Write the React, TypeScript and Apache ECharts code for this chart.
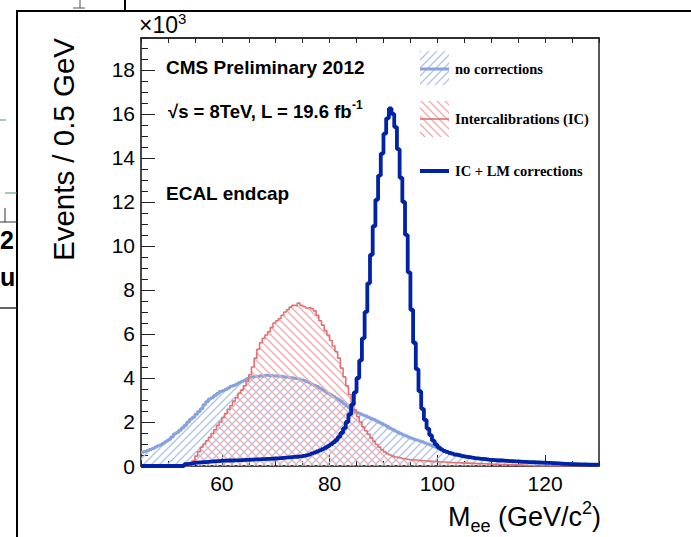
import React, { useEffect, useRef } from "react";
import * as echarts from "echarts";

// Histogram binning (GeV)
const X_MIN = 45;
const X_MAX = 130;
const BIN = 0.5;
const Y_MAX = 19.45; // in units of 10^3 events

const X_LABELS = [60, 80, 100, 120];
const Y_LABELS = [0, 2, 4, 6, 8, 10, 12, 14, 16, 18];

// Events / 0.5 GeV (x10^3), one value per bin starting at 45 GeV
const noCorrections = [
  0.62, 0.66, 0.70, 0.75, 0.80, 0.86, 0.92, 0.97, 1.05, 1.12,
  1.20, 1.32, 1.45, 1.52, 1.62, 1.74, 1.85, 2.00, 2.12, 2.22,
  2.35, 2.48, 2.60, 2.78, 2.92, 3.05, 3.10, 3.20, 3.30, 3.38,
  3.42, 3.48, 3.55, 3.62, 3.66, 3.72, 3.78, 3.84, 3.90, 3.96,
  4.02, 4.06, 4.08, 4.05, 4.10, 4.07, 4.12, 4.10, 4.13, 4.09,
  4.10, 4.07, 4.08, 4.04, 4.05, 4.01, 3.99, 3.97, 3.95, 3.91,
  3.88, 3.84, 3.79, 3.72, 3.66, 3.61, 3.53, 3.46, 3.39, 3.31,
  3.24, 3.16, 3.08, 3.01, 2.93, 2.83, 2.73, 2.64, 2.55, 2.48,
  2.42, 2.37, 2.32, 2.27, 2.22, 2.16, 2.11, 2.05, 1.99, 1.92,
  1.86, 1.79, 1.72, 1.66, 1.59, 1.53, 1.47, 1.41, 1.36, 1.31,
  1.26, 1.22, 1.18, 1.14, 1.10, 1.05, 1.00, 0.95, 0.90, 0.85,
  0.80, 0.75, 0.71, 0.67, 0.63, 0.59, 0.55, 0.52, 0.49, 0.46,
  0.43, 0.41, 0.39, 0.37, 0.35, 0.34, 0.33, 0.32, 0.31, 0.30,
  0.29, 0.28, 0.27, 0.26, 0.25, 0.24, 0.23, 0.22, 0.21, 0.20,
  0.19, 0.19, 0.18, 0.17, 0.17, 0.16, 0.16, 0.15, 0.15, 0.14,
  0.14, 0.13, 0.13, 0.13, 0.12, 0.12, 0.12, 0.11, 0.11, 0.11,
  0.11, 0.10, 0.10, 0.10, 0.10, 0.10, 0.09, 0.09, 0.09, 0.09,
];

const intercalibrations = [
  0, 0, 0, 0, 0, 0, 0, 0, 0, 0,
  0, 0, 0, 0, 0, 0, 0, 0, 0.08, 0.25,
  0.45, 0.65, 0.85, 1.0, 1.15, 1.3, 1.48, 1.65, 1.85, 2.0,
  2.2, 2.38, 2.58, 2.75, 2.95, 3.1, 3.3, 3.45, 3.65, 3.85,
  4.15, 4.5, 4.9, 5.3, 5.6, 5.8, 5.95, 6.1, 6.3, 6.5,
  6.6, 6.7, 6.85, 7.0, 7.1, 7.22, 7.3, 7.28, 7.4, 7.3,
  7.25, 7.18, 7.2, 7.15, 7.05, 6.85, 6.6, 6.4, 6.15, 5.95,
  5.7, 5.45, 5.2, 4.9, 4.45, 4.05, 3.65, 3.25, 2.9, 2.55,
  2.25, 2.0, 1.78, 1.6, 1.45, 1.28, 1.12, 0.98, 0.86, 0.74,
  0.64, 0.56, 0.5, 0.45, 0.41, 0.38, 0.35, 0.33, 0.31, 0.29,
  0.28, 0.27, 0.26, 0.25, 0.24, 0.23, 0.22, 0.21, 0.2, 0.2,
  0.19, 0.18, 0.18, 0.17, 0.16, 0.16, 0.15, 0.15, 0.14, 0.14,
  0.13, 0.13, 0.12, 0.12, 0.11, 0.11, 0.1, 0.1, 0.09, 0.09,
  0.08, 0.08, 0.08, 0.07, 0.07, 0.07, 0.06, 0.06, 0.06, 0.05,
  0.05, 0.04, 0.03, 0.02, 0.01, 0, 0, 0, 0, 0,
  0, 0, 0, 0, 0, 0, 0, 0, 0, 0,
  0, 0, 0, 0, 0, 0, 0, 0, 0, 0,
];

const icLmCorrections = [
  0, 0, 0, 0, 0, 0, 0, 0, 0, 0,
  0, 0, 0, 0, 0, 0, 0.08, 0.10, 0.12, 0.14,
  0.15, 0.16, 0.17, 0.18, 0.19, 0.2, 0.21, 0.22, 0.22, 0.23,
  0.24, 0.24, 0.25, 0.25, 0.26, 0.26, 0.27, 0.27, 0.28, 0.28,
  0.29, 0.29, 0.3, 0.3, 0.31, 0.31, 0.32, 0.32, 0.33, 0.34,
  0.35, 0.36, 0.37, 0.38, 0.39, 0.4, 0.41, 0.42, 0.44, 0.45,
  0.47, 0.5, 0.53, 0.57, 0.61, 0.66, 0.71, 0.77, 0.83, 0.9,
  0.98, 1.07, 1.18, 1.32, 1.5, 1.72, 2.0, 2.35, 2.8, 3.35,
  4.0, 4.8, 5.8, 7.0, 8.3, 9.6, 10.9, 12.1, 13.2, 14.2,
  15.1, 15.8, 16.25, 16.0, 15.4, 14.4, 13.1, 12.0, 10.5, 8.8,
  7.1, 5.6, 4.4, 3.4, 2.6, 2.1, 1.7, 1.4, 1.15, 0.98,
  0.85, 0.76, 0.69, 0.64, 0.6, 0.56, 0.52, 0.49, 0.46, 0.44,
  0.42, 0.4, 0.38, 0.36, 0.35, 0.33, 0.32, 0.31, 0.29, 0.28,
  0.27, 0.26, 0.25, 0.25, 0.24, 0.23, 0.22, 0.22, 0.21, 0.21,
  0.2, 0.19, 0.19, 0.18, 0.17, 0.17, 0.16, 0.16, 0.15, 0.15,
  0.14, 0.14, 0.13, 0.13, 0.12, 0.11, 0.1, 0.1, 0.09, 0.08,
  0.07, 0.07, 0.06, 0.06, 0.06, 0.05, 0.05, 0.05, 0.05, 0.05,
];

const SERIES_NAMES = ["no corrections", "Intercalibrations (IC)", "IC + LM corrections"];

const C_LIGHT = "#86a3dc";
const C_LIGHT_HATCH = "#adc2ed";
const C_RED = "#e07272";
const C_RED_HATCH = "#efacac";
const C_DARK = "#0022a6";

const SANS = "'Liberation Sans', Arial, Helvetica, sans-serif";
const SERIF = "'Liberation Serif', 'Times New Roman', serif";

function toSteps(vals: number[]): number[][] {
  const pts = vals.map((v, i) => [X_MIN + i * BIN, v]);
  pts.push([X_MIN + vals.length * BIN, vals[vals.length - 1]]);
  return pts;
}

function hatchPattern(color: string, dir: "/" | "\\", size = 8, lw = 1.25) {
  const s = size;
  const seg = (x1: number, y1: number, x2: number, y2: number) =>
    `<line x1="${x1}" y1="${y1}" x2="${x2}" y2="${y2}" stroke="${color}" stroke-width="${lw}"/>`;
  const body =
    dir === "/"
      ? seg(-2, s + 2, s + 2, -2) + seg(-2, 2, 2, -2) + seg(s - 2, s + 2, s + 2, s - 2)
      : seg(-2, -2, s + 2, s + 2) + seg(s - 2, -2, s + 2, 2) + seg(-2, s - 2, 2, s + 2);
  const svg = `<svg xmlns="http://www.w3.org/2000/svg" width="${s}" height="${s}" viewBox="0 0 ${s} ${s}">${body}</svg>`;
  return {
    image: "data:image/svg+xml;base64," + btoa(svg),
    imageWidth: s,
    imageHeight: s,
    repeat: "repeat",
  };
}

export default function App() {
  const ref = useRef<HTMLDivElement>(null);

  useEffect(() => {
    if (!ref.current) return;
    const chart = echarts.init(ref.current, undefined, { renderer: "svg" });
    const bluePattern = hatchPattern(C_LIGHT_HATCH, "/");
    const redPattern = hatchPattern(C_RED_HATCH, "\\");
    const bluePatternLegend = hatchPattern(C_LIGHT_HATCH, "/");
    const redPatternLegend = hatchPattern(C_RED_HATCH, "\\");

    const axisCommon = { type: "value", min: X_MIN, max: X_MAX, interval: 5, splitLine: { show: false } };
    const yCommon = { type: "value", min: 0, max: Y_MAX, splitLine: { show: false } };

    const option: any = {
      animation: false,
      backgroundColor: "#ffffff",
      grid: {
        left: 141,
        top: 38,
        width: 458,
        height: 428,
        show: true,
        borderColor: "#222",
        borderWidth: 1.5,
        backgroundColor: "transparent",
      },
      xAxis: [
        {
          ...axisCommon,
          position: "bottom",
          axisLine: { show: true, lineStyle: { color: "#444", width: 1.5 } },
          axisTick: { show: true, inside: true, length: 5, lineStyle: { color: "#222", width: 1 } },
          axisLabel: { show: false },
        },
        {
          ...axisCommon,
          position: "bottom",
          axisLine: { show: false },
          axisTick: { show: true, inside: true, length: 11, customValues: X_LABELS, lineStyle: { color: "#222", width: 1 } },
          axisLabel: {
            show: true,
            customValues: X_LABELS,
            fontSize: 21,
            fontFamily: SANS,
            color: "#000",
            margin: 7,
            formatter: (v: number) => (X_LABELS.indexOf(v) >= 0 ? String(v) : ""),
          },
        },
        {
          ...axisCommon,
          position: "top",
          axisLine: { show: true, lineStyle: { color: "#222", width: 1.5 } },
          axisTick: { show: true, inside: true, length: 5, lineStyle: { color: "#222", width: 1 } },
          axisLabel: { show: false },
        },
      ],
      yAxis: [
        {
          ...yCommon,
          interval: 0.5,
          position: "left",
          axisLine: { show: true, lineStyle: { color: "#444", width: 1.5 } },
          axisTick: { show: true, inside: true, length: 7, lineStyle: { color: "#222", width: 1 } },
          axisLabel: { show: false },
        },
        {
          ...yCommon,
          interval: 2,
          position: "left",
          axisLine: { show: false },
          axisTick: { show: true, inside: true, length: 14, customValues: Y_LABELS, lineStyle: { color: "#222", width: 1 } },
          axisLabel: {
            show: true,
            customValues: Y_LABELS,
            fontSize: 21,
            fontFamily: SANS,
            color: "#000",
            margin: 6,
            formatter: (v: number) => (Y_LABELS.indexOf(v) >= 0 ? String(v) : ""),
          },
        },
      ],
      series: [
        {
          name: SERIES_NAMES[0],
          type: "line",
          step: "end",
          symbol: "none",
          xAxisIndex: 0,
          yAxisIndex: 0,
          data: toSteps(noCorrections),
          lineStyle: { color: C_LIGHT, width: 3 },
          itemStyle: { color: C_LIGHT },
          areaStyle: { color: bluePattern, opacity: 1 },
          z: 2,
        },
        {
          name: SERIES_NAMES[1],
          type: "line",
          step: "end",
          symbol: "none",
          xAxisIndex: 0,
          yAxisIndex: 0,
          data: toSteps(intercalibrations),
          lineStyle: { color: C_RED, width: 1.6 },
          itemStyle: { color: C_RED },
          areaStyle: { color: redPattern, opacity: 1 },
          z: 3,
        },
        {
          name: SERIES_NAMES[2],
          type: "line",
          step: "end",
          symbol: "none",
          xAxisIndex: 0,
          yAxisIndex: 0,
          data: toSteps(icLmCorrections),
          lineStyle: { color: C_DARK, width: 3.8 },
          itemStyle: { color: C_DARK },
          z: 4,
        },
      ],
      graphic: [
        // outer canvas frame fragments
        { type: "polyline", shape: { points: [[17, 537], [17, 11], [691, 11]] }, style: { stroke: "#000", lineWidth: 2, fill: "none" } },
        { type: "line", shape: { x1: 125, y1: 0, x2: 125, y2: 11 }, style: { stroke: "#000", lineWidth: 2 } },
        { type: "line", shape: { x1: 80, y1: 0, x2: 80, y2: 8 }, style: { stroke: "#555", lineWidth: 1 } },
        { type: "line", shape: { x1: 73, y1: 8, x2: 85, y2: 8 }, style: { stroke: "#555", lineWidth: 1 } },
        { type: "line", shape: { x1: 0, y1: 120, x2: 6, y2: 120 }, style: { stroke: "#4a9a6a", lineWidth: 1 } },
        { type: "line", shape: { x1: 5, y1: 193, x2: 17, y2: 193 }, style: { stroke: "#4a9a6a", lineWidth: 1 } },
        { type: "line", shape: { x1: 5, y1: 208, x2: 5, y2: 222 }, style: { stroke: "#333", lineWidth: 1 } },
        { type: "line", shape: { x1: 0, y1: 222, x2: 17, y2: 222 }, style: { stroke: "#333", lineWidth: 1 } },
        { type: "line", shape: { x1: 0, y1: 308, x2: 17, y2: 308 }, style: { stroke: "#333", lineWidth: 1.5 } },
        { type: "text", x: 0, y: 240, style: { text: "2", font: `bold 25px ${SANS}`, fill: "#000", verticalAlign: "middle" } },
        { type: "text", x: 0, y: 277, style: { text: "u", font: `bold 25px ${SANS}`, fill: "#000", verticalAlign: "middle" } },

        // axis titles
        {
          type: "text",
          x: 63,
          y: 38,
          rotation: Math.PI / 2,
          style: { text: "Events / 0.5 GeV", font: `29.5px ${SANS}`, fill: "#000", align: "right", verticalAlign: "middle" },
        },
        {
          type: "text",
          x: 601,
          y: 517,
          style: {
            text: "{m|M}{sub|ee}{m| (GeV/c}{sup|2}{m|)}",
            align: "right",
            verticalAlign: "middle",
            fill: "#000",
            rich: {
              m: { fontSize: 27, fontFamily: SANS, lineHeight: 36, verticalAlign: "middle", fill: "#000" },
              sub: { fontSize: 18, fontFamily: SANS, lineHeight: 17, verticalAlign: "bottom", fill: "#000" },
              sup: { fontSize: 18, fontFamily: SANS, lineHeight: 17, verticalAlign: "top", fill: "#000" },
            },
          },
        },
        {
          type: "text",
          x: 139,
          y: 25,
          style: {
            text: "{m|\u00d710}{sup|3}",
            align: "left",
            verticalAlign: "middle",
            fill: "#000",
            rich: {
              m: { fontSize: 23, fontFamily: SANS, lineHeight: 28, verticalAlign: "middle", fill: "#000" },
              sup: { fontSize: 15, fontFamily: SANS, lineHeight: 15, verticalAlign: "top", fill: "#000" },
            },
          },
        },

        // annotations
        { type: "text", x: 166, y: 67, style: { text: "CMS Preliminary 2012", font: `bold 19px ${SANS}`, fill: "#000", verticalAlign: "middle" } },
        {
          type: "text",
          x: 168,
          y: 111,
          style: {
            text: "{m|\u221As = 8TeV, L = 19.6 fb}{sup|-1}",
            verticalAlign: "middle",
            fill: "#000",
            rich: {
              m: { fontSize: 18.5, fontWeight: "bold", fontFamily: SANS, lineHeight: 24, verticalAlign: "middle", fill: "#000" },
              sup: { fontSize: 12, fontWeight: "bold", fontFamily: SANS, lineHeight: 12, verticalAlign: "top", fill: "#000" },
            },
          },
        },
        { type: "text", x: 166, y: 193, style: { text: "ECAL endcap", font: `bold 19px ${SANS}`, fill: "#000", verticalAlign: "middle" } },

        // legend
        { type: "rect", shape: { x: 420, y: 51, width: 29, height: 34 }, style: { fill: bluePatternLegend as any, stroke: "none" }, z: 10 },
        { type: "line", shape: { x1: 420, y1: 69, x2: 449, y2: 69 }, style: { stroke: C_LIGHT, lineWidth: 3 }, z: 11 },
        { type: "text", x: 455, y: 69, z: 11, style: { text: SERIES_NAMES[0], font: `bold 14.5px ${SERIF}`, fill: "#000", verticalAlign: "middle" } },

        { type: "rect", shape: { x: 420, y: 101, width: 29, height: 36 }, style: { fill: redPatternLegend as any, stroke: "none" }, z: 10 },
        { type: "line", shape: { x1: 420, y1: 119, x2: 449, y2: 119 }, style: { stroke: C_RED, lineWidth: 1.6 }, z: 11 },
        { type: "text", x: 455, y: 119, z: 11, style: { text: SERIES_NAMES[1], font: `bold 14.5px ${SERIF}`, fill: "#000", verticalAlign: "middle" } },

        { type: "line", shape: { x1: 420, y1: 171, x2: 449, y2: 171 }, style: { stroke: C_DARK, lineWidth: 4 }, z: 11 },
        { type: "text", x: 455, y: 171, z: 11, style: { text: SERIES_NAMES[2], font: `bold 14.5px ${SERIF}`, fill: "#000", verticalAlign: "middle" } },
      ],
    };

    chart.setOption(option);
    return () => chart.dispose();
  }, []);

  return (
    <div
      ref={ref}
      style={{ position: "fixed", left: 0, top: 0, width: 691, height: 537, background: "#fff" }}
    />
  );
}
